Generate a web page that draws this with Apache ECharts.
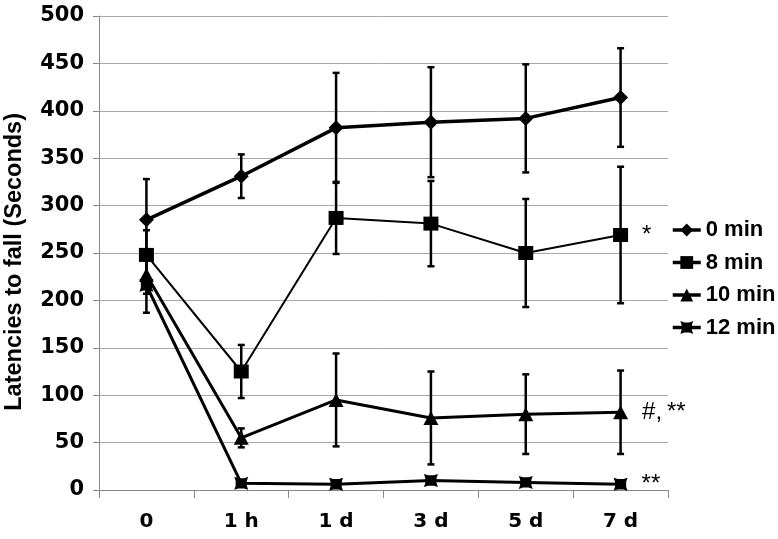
<!DOCTYPE html>
<html>
<head>
<meta charset="utf-8">
<script src="https://cdn.jsdelivr.net/npm/echarts@6/dist/echarts.min.js"></script>
<style>html,body{margin:0;padding:0;background:#fff}#c{width:778px;height:539px}</style>
</head>
<body>
<div id="c"></div>
<script>
var categories = ['0', '1 h', '1 d', '3 d', '5 d', '7 d'];
var seriesNames = ['0 min', '8 min', '10 min', '12 min'];
var min0 = [285, 331, 382, 388, 392, 414];
var min0Err = [43, 23, 58, 58, 57, 52];
var min8 = [248, 125, 287, 281, 250, 269];
var min8Err = [26, 28, 38, 45, 57, 72];
var min10 = [227, 55, 95, 76, 80, 82];
var min10Err = [20, 10, 49, 49, 42, 44];
var min12 = [216, 7, 6, 10, 8, 6];
var min12Err = [29, 2, 2, 2, 2, 2];
var annotations = ['', '*', '#,\u2009**', '**'];
var yTicks = { min: 0, max: 500, interval: 50 };

var values = [min0, min8, min10, min12];
var errs = [min0Err, min8Err, min10Err, min12Err];
var symbols = [
  'diamond',
  'rect',
  'triangle',
  'path://M0,0 L3,1 L7,1 L10,0 L9,3 L9,7 L10,10 L7,9 L3,9 L0,10 L1,7 L1,3 Z'
];
var symbolSizes = [[15, 15], [15, 14], [15, 14], [14, 13]];
var lineWidths = [3.5, 2, 3, 3];
var FONT = 'Liberation Sans, Arial, sans-serif';
var WIDE = 'DejaVu Sans, sans-serif';

var series = [];
values.forEach(function (vals, si) {
  var errData = vals.map(function (v, i) { return [i, v - errs[si][i], v + errs[si][i]]; });
  series.push({
    type: 'custom',
    name: seriesNames[si] + ' err',
    renderItem: function (params, api) {
      var lo = api.coord([api.value(0), api.value(1)]);
      var hi = api.coord([api.value(0), api.value(2)]);
      var w = 3.5;
      var st = { stroke: '#000', lineWidth: 2.5 };
      return {
        type: 'group',
        children: [
          { type: 'line', shape: { x1: lo[0], y1: lo[1], x2: hi[0], y2: hi[1] }, style: st },
          { type: 'line', shape: { x1: lo[0] - w, y1: lo[1], x2: lo[0] + w, y2: lo[1] }, style: st },
          { type: 'line', shape: { x1: hi[0] - w, y1: hi[1], x2: hi[0] + w, y2: hi[1] }, style: st }
        ]
      };
    },
    encode: { x: 0, y: [1, 2] },
    data: errData,
    z: 3,
    silent: true
  });
});
values.forEach(function (vals, si) {
  var data = vals.map(function (v, i) {
    if (i === vals.length - 1 && annotations[si]) {
      return {
        value: v,
        label: {
          show: true, position: 'right', distance: 14,
          formatter: annotations[si],
          color: '#000', fontFamily: FONT, fontSize: 24, fontWeight: 'normal'
        }
      };
    }
    return v;
  });
  series.push({
    type: 'line',
    name: seriesNames[si],
    data: data,
    symbol: symbols[si],
    symbolSize: symbolSizes[si],
    showAllSymbol: true,
    lineStyle: { color: '#000', width: lineWidths[si] },
    itemStyle: { color: '#000', borderWidth: 0 },
    z: 4,
    animation: false
  });
});

var chart = echarts.init(document.getElementById('c'), null, { renderer: 'canvas' });
chart.setOption({
  animation: false,
  backgroundColor: '#fff',
  grid: { left: 99, right: 110, top: 16, bottom: 49, containLabel: false },
  legend: {
    data: seriesNames,
    orient: 'vertical',
    left: 671,
    top: 219,
    padding: 0,
    itemWidth: 28,
    itemHeight: 16,
    itemGap: 10.5,
    lineStyle: { width: 3.5 },
    textStyle: { color: '#000', fontFamily: FONT, fontSize: 22, fontWeight: 'bold' }
  },
  xAxis: {
    type: 'category',
    data: categories,
    boundaryGap: true,
    axisLine: { lineStyle: { color: '#888', width: 1 } },
    axisTick: { show: true, length: 8, lineStyle: { color: '#888' } },
    axisLabel: { color: '#000', fontFamily: WIDE, fontSize: 20, fontWeight: 'bold', margin: 22 },
    splitLine: { show: false }
  },
  yAxis: {
    type: 'value',
    min: yTicks.min, max: yTicks.max, interval: yTicks.interval,
    axisLine: { show: true, lineStyle: { color: '#888', width: 1 } },
    axisTick: { show: true, length: 6, lineStyle: { color: '#888' } },
    axisLabel: { color: '#000', fontFamily: WIDE, fontSize: 21, fontWeight: 'bold', margin: 15 },
    splitLine: { show: true, lineStyle: { color: '#a8a8a8', width: 1 } }
  },
  graphic: [{
    type: 'text',
    left: 3,
    top: 113,
    rotation: Math.PI / 2,
    originX: 0, originY: 0,
    style: {
      text: 'Latencies to fall (Seconds)',
      fill: '#000',
      font: 'bold 23.5px ' + FONT
    }
  }],
  series: series
});
</script>
</body>
</html>
